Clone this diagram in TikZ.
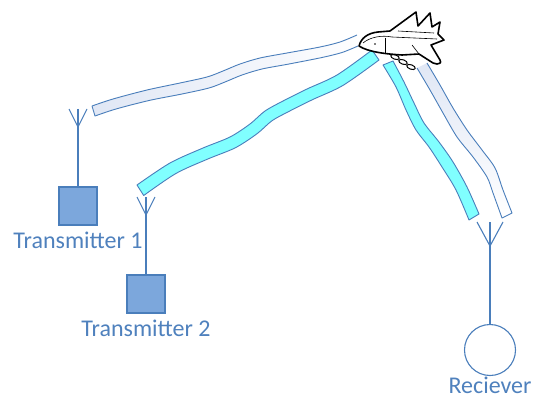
\documentclass[tikz,border=0pt]{standalone}
\usepackage{fontspec}
\setmainfont{Carlito}

\definecolor{linkblue}{RGB}{74,126,187}
\definecolor{boxblue}{RGB}{124,167,220}
\definecolor{textblue}{RGB}{79,129,189}
\definecolor{beamcyan}{RGB}{128,255,255}
\definecolor{beamgrey}{RGB}{224,231,245}

\tikzset{
	wire/.style={linkblue, line width=1.1pt},
	station/.style={draw=linkblue, fill=boxblue, line width=1.1pt, minimum size=38pt, inner sep=0pt},
	tag/.style={text=textblue, font=\fontsize{24}{28}\selectfont, inner sep=0pt},
	beam/.style={draw=linkblue, line width=0.9pt, line join=round},
	jet/.style={draw=black, fill=white, line width=1.6pt, line join=round, line cap=round},
	jetline/.style={black, line width=0.6pt}
}

\begin{document}
\begin{tikzpicture}[x=1pt, y=-1pt]
	\useasboundingbox (0,0) rectangle (534,398);

	% beams, the two plain ones fade out to white
	\shade [left color=beamgrey, right color=white!96!beamgrey]
		plot [smooth] coordinates {(92,106) (113,99) (147,90) (180,83) (207,77) (223,71) (240,64) (260,58) (287,53) (320,47) (340,42) (357,35)}
		-- plot [smooth] coordinates {(358,46) (342,52.5) (322,57.5) (289,64) (262,69) (242,75) (225,82) (209,88) (182,94) (149,100.5) (116,109) (95,116)} -- cycle;
	\draw [beam]
		plot [smooth] coordinates {(358,46) (342,52.5) (322,57.5) (289,64) (262,69) (242,75) (225,82) (209,88) (182,94) (149,100.5) (116,109) (95,116)}
		-- plot [smooth] coordinates {(92,106) (113,99) (147,90) (180,83) (207,77) (223,71) (240,64) (260,58) (287,53) (320,47) (340,42) (357,35)};

	\filldraw [beam, fill=beamcyan]
		plot [smooth] coordinates {(137,185) (170,163) (203,148) (230,137) (250,124) (265,111) (283,101) (307,89) (337,75) (372,50)}
		-- plot [smooth] coordinates {(379,60) (343,85.4) (312.2,99.8) (288.6,111.6) (271.9,120.8) (257.2,133.6) (235.5,147.7) (207.6,159.1) (175.9,173.5) (143.7,195.5)} -- cycle;

	\filldraw [beam, fill=beamcyan]
		plot [smooth] coordinates {(383,65) (396,87) (406,110) (416,130) (429,147) (442,167) (456,190) (469,220)}
		-- plot [smooth] coordinates {(479,214) (467,187) (453,162) (439,142) (424,123) (414,103) (404,82) (393,61)} -- cycle;

	\shade [top color=beamgrey, middle color=white!80!beamgrey, bottom color=white]
		plot [smooth] coordinates {(417,68) (430,90) (443,113) (457,137) (473,157) (487,177) (493,193) (502,218)}
		-- plot [smooth] coordinates {(512,213) (503,190) (495,168) (482,150) (467,130) (453,108) (440,85) (427,63)} -- cycle;
	\draw [beam]
		plot [smooth] coordinates {(417,68) (430,90) (443,113) (457,137) (473,157) (487,177) (493,193) (502,218)}
		-- plot [smooth] coordinates {(512,213) (503,190) (495,168) (482,150) (467,130) (453,108) (440,85) (427,63)};

	% the aircraft
	\foreach \x/\y in {395/57, 403/62, 411/67}
		\filldraw [jet, line width=1pt, rotate around={-20:(\x,\y)}] (\x,\y) ellipse [x radius=4.5, y radius=2.2];
	\filldraw [jet] (359,46)
		.. controls (361,38) and (368,33) .. (378,32)
		-- (390,31)
		-- (416,12) -- (418,26)
		-- (430,13) -- (432,27)
		-- (440,22) -- (438,34)
		-- (444,40) -- (431,45)
		-- (440,60) .. controls (441,63) .. (437,64)
		-- (433,63) -- (419,54)
		-- (402,55)
		.. controls (386,54) and (368,52) .. cycle;
	\draw [jetline] (363,43) .. controls (370,37) and (382,35) .. (392,37) -- (437,39);
	\draw [jetline] (385,38) -- (385,53);
	\draw [jetline] (398,31) -- (434,33);
	\draw [jetline] (412,45) -- (419,54);
	\fill (375,44) circle [radius=0.8];

	% ground stations
	\node [station] (tx1) at (78,206) {};
	\node [station] (tx2) at (146,294) {};
	\node [draw=linkblue, line width=1.1pt, circle, minimum size=51pt, inner sep=0pt] (rcv) at (490,350) {};

	% antennas on top of them
	\foreach \n/\x/\y/\w/\h in {ant1/78/109/9/18, ant2/146/197/9/18, ant3/490/222/13/24}{
		\coordinate (\n) at (\x,\y);
		\draw [wire] (\x-\w,\y) -- (\x,\y+\h) -- (\x+\w,\y);
	}
	\draw [wire] (ant1) -- (tx1);
	\draw [wire] (ant2) -- (tx2);
	\draw [wire] (ant3) -- (rcv);

	\node [tag, anchor=base] (tx1name) at (78,248) {Transmitter 1};
	\node [tag, anchor=base] (tx2name) at (146,336) {Transmitter 2};
	\node [tag, anchor=base] (rcvname) at (490,393) {Reciever};
\end{tikzpicture}
\end{document}
